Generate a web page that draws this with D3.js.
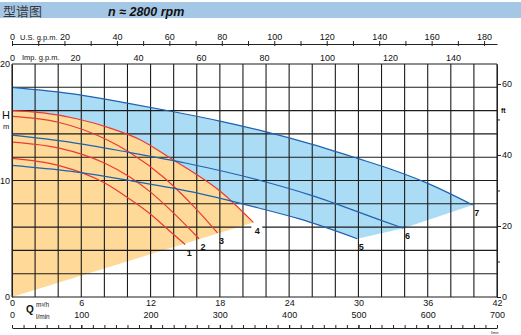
<!DOCTYPE html>
<html>
<head>
<meta charset="utf-8">
<script src="https://cdn.jsdelivr.net/npm/d3@7/dist/d3.min.js"></script>
<style>
  body { margin: 0; background: #fff; }
  svg { display: block; font-family: 'Liberation Sans', Arial, sans-serif; }
  .grid line { stroke: #1c1c1c; stroke-width: 1.1; }
  .axis path, .axis line { stroke: #222; stroke-width: 1; }
  .axis text { font-size: 9px; fill: #111; font-family: 'Liberation Sans', Arial, sans-serif; }
  .curve { fill: none; stroke-width: 1.2; }
  .curve--red { stroke: #ea3a35; }
  .curve--blue { stroke: #1f62b0; }
  .curve-label { font-size: 9px; font-weight: bold; fill: #111; }
</style>
</head>
<body>
<div id="chart"></div>
<script>
// tick labels
const Q_TICKS = [0, 6, 12, 18, 24, 30, 36, 42];
const LMIN_TICKS = [0, 100, 200, 300, 400, 500, 600, 700];
const US_TICKS = [0, 20, 40, 60, 80, 100, 120, 140, 160, 180];
const IMP_TICKS = [0, 20, 40, 60, 80, 100, 120, 140];
const H_TICKS = [0, 10, 20];
const FT_TICKS = [0, 20, 40, 60];
const FT_MINOR = [10, 30, 50];

// unit conversions (per m3/h, per m)
const US_PER_M3H = 4.4029;
const IMP_PER_M3H = 3.6662;
const LMIN_PER_M3H = 16.667;
const FT_PER_M = 3.2808;

// pump curves [Q m3/h, H m]
const curve1 = [[0, 11.9], [4, 11.3], [8, 9.8], [10.2, 8.4], [12, 7.1], [13.5, 5.8], [15, 4.5]];
const curve2 = [[0, 13.3], [4, 12.8], [8, 11.5], [10.2, 10.3], [12, 9.0], [14, 7.2], [16.2, 5.0]];
const curve3 = [[0, 15.5], [4, 15.0], [8, 13.6], [10.2, 12.4], [13.1, 10.3], [16, 7.5], [17.8, 5.5]];
const curve4 = [[0, 16.0], [2.7, 15.8], [5.6, 15.3], [8.5, 14.5], [11.1, 13.5], [13.9, 11.8], [16, 10.5], [18, 9.1], [20.9, 6.4]];
const curve5 = [[0, 11.3], [5, 10.8], [10.2, 10.0], [15.7, 9.0], [21.5, 7.6], [24.9, 6.7], [29.9, 5.0]];
const curve6 = [[0, 13.9], [5, 13.3], [10.2, 12.4], [15, 11.5], [21.5, 10.0], [26, 8.7], [31.9, 6.6], [33.9, 5.9]];
const curve7 = [[0, 18.0], [5.6, 17.4], [10.2, 16.6], [14, 15.9], [18, 15.1], [21.5, 14.3], [26, 13.1], [29.9, 11.9], [33, 10.9], [35.9, 9.8], [39.9, 7.9]];

// operating range limits
const blueLimit = [[39.9, 7.9], [33.9, 5.9], [29.9, 5.0]];
const orangeLimit = [[20.9, 6.4], [0, 0]];

const redCurves = [curve1, curve2, curve3, curve4];
const blueCurves = [curve5, curve6, curve7];
const CURVE_NAMES = ['1', '2', '3', '4', '5', '6', '7'];

// dimensions
const WIDTH = 521;
const HEIGHT = 335;
const PLOT_LEFT = 12;
const PLOT_RIGHT = 497;
const PLOT_TOP = 64;
const PLOT_BOTTOM = 297;

// colors
const BLUE_FILL = '#abdcf5';
const ORANGE_FILL = '#fed998';
const BAND_COLOR = '#a5c7e6';

// scales
const x = d3.scaleLinear().domain([0, 42]).range([PLOT_LEFT, PLOT_RIGHT]);
const y = d3.scaleLinear().domain([0, 20]).range([PLOT_BOTTOM, PLOT_TOP]);
const xUS = d3.scaleLinear().domain([0, 42 * US_PER_M3H]).range(x.range());
const xImp = d3.scaleLinear().domain([0, 42 * IMP_PER_M3H]).range(x.range());
const xLmin = d3.scaleLinear().domain([0, 42 * LMIN_PER_M3H]).range(x.range());
const yFt = d3.scaleLinear().domain([0, 20 * FT_PER_M]).range(y.range());

const line = d3.line()
  .x((d) => x(d[0]))
  .y((d) => y(d[1]))
  .curve(d3.curveMonotoneX);
const straight = d3.line().x((d) => x(d[0])).y((d) => y(d[1]));

const $svg = d3.select('#chart').append('svg')
  .attr('width', WIDTH)
  .attr('height', HEIGHT);

// header band
$svg.append('rect')
  .attr('x', 0).attr('y', 2)
  .attr('width', WIDTH).attr('height', 16)
  .attr('fill', BAND_COLOR);
$svg.append('text')
  .attr('x', 3).attr('y', 15.5)
  .style('font-family', "'Noto Sans CJK SC', sans-serif")
  .style('font-size', '13px')
  .attr('fill', '#3a3a3a')
  .text('型谱图');
$svg.append('text')
  .attr('x', 108).attr('y', 15.5)
  .style('font-size', '12.5px')
  .style('font-weight', 'bold')
  .style('font-style', 'italic')
  .attr('fill', '#111')
  .text('n ≈ 2800 rpm');

// fills: blue range, then orange range above it
const bluePath = line(curve7)
  + straight(blueLimit).replace('M', 'L')
  + line(curve5.slice().reverse()).replace('M', 'L') + 'Z';
$svg.append('path').attr('d', bluePath).attr('fill', BLUE_FILL);

const orangePath = line(curve4) + straight(orangeLimit).replace('M', 'L') + 'Z';
$svg.append('path').attr('d', orangePath).attr('fill', ORANGE_FILL);

// grid
const $grid = $svg.append('g').attr('class', 'grid');
$grid.selectAll('.gx')
  .data(d3.range(0, 43, 2))
  .join('line')
  .attr('x1', (d) => x(d)).attr('x2', (d) => x(d))
  .attr('y1', PLOT_TOP).attr('y2', PLOT_BOTTOM);
$grid.selectAll('.gy')
  .data(d3.range(0, 21, 2))
  .join('line')
  .attr('class', 'gy')
  .attr('x1', PLOT_LEFT).attr('x2', PLOT_RIGHT)
  .attr('y1', (d) => y(d)).attr('y2', (d) => y(d));

// curves
$svg.append('g').selectAll('path')
  .data(redCurves)
  .join('path')
  .attr('class', 'curve curve--red')
  .attr('d', line);
$svg.append('g').selectAll('path')
  .data(blueCurves)
  .join('path')
  .attr('class', 'curve curve--blue')
  .attr('d', line);

// curve numbers at the end of each curve
const ends = redCurves.concat(blueCurves).map((c, i) => ({ p: c[c.length - 1], name: CURVE_NAMES[i] }));
const $labels = $svg.append('g');
$labels.selectAll('rect')
  .data(ends.filter((d) => d.name === '4'))
  .join('rect')
  .attr('x', (d) => x(d.p[0]) - 2)
  .attr('y', (d) => y(d.p[1]) + 3)
  .attr('width', 11).attr('height', 10)
  .attr('fill', '#fff');
$labels.selectAll('text')
  .data(ends)
  .join('text')
  .attr('class', 'curve-label')
  .attr('x', (d) => x(d.p[0]) + 4)
  .attr('y', (d) => y(d.p[1]) + 8)
  .attr('dy', '0.35em')
  .attr('text-anchor', 'middle')
  .text((d) => d.name);

// left axis (H m)
$svg.append('g')
  .attr('class', 'axis')
  .attr('transform', `translate(${PLOT_LEFT},0)`)
  .call(d3.axisLeft(y).tickValues(H_TICKS).tickSize(0).tickPadding(2));
$svg.append('text').attr('x', 2).attr('y', 119).style('font-size', '11px').attr('fill', '#111').text('H');
$svg.append('text').attr('x', 3).attr('y', 129).style('font-size', '7.5px').attr('fill', '#111').text('m');

// right axis (ft)
const $ft = $svg.append('g')
  .attr('class', 'axis')
  .attr('transform', `translate(${PLOT_RIGHT},0)`);
$ft.call(d3.axisRight(yFt).tickValues(FT_TICKS).tickSize(4).tickPadding(1).tickSizeOuter(0));
$ft.append('g')
  .call(d3.axisRight(yFt).tickValues(FT_MINOR).tickSize(3).tickFormat(''))
  .call((g) => g.select('.domain').remove());
$svg.append('text').attr('x', 501).attr('y', 113).style('font-size', '7px').style('font-weight', 'bold').attr('fill', '#111').text('ft');

// top axis (U.S. g.p.m.)
const usMinor = d3.range(0, 181, 10);
$svg.append('g')
  .attr('class', 'axis')
  .attr('transform', 'translate(0,44)')
  .call(d3.axisTop(xUS).tickValues(usMinor).tickSize(3).tickSizeOuter(0).tickPadding(1)
    .tickFormat((d) => (US_TICKS.includes(d) ? d : '')))
  .call((g) => g.selectAll('.tick line').attr('y1', 2));
$svg.append('text').attr('x', 20).attr('y', 40).style('font-size', '7.5px').attr('fill', '#111').text('U.S. g.p.m.');

// Imp. g.p.m. labels
$svg.append('g')
  .attr('class', 'axis')
  .attr('transform', 'translate(0,61)')
  .call(d3.axisTop(xImp).tickValues(IMP_TICKS).tickSize(0).tickPadding(0))
  .call((g) => g.select('.domain').remove());
$svg.append('text').attr('x', 22).attr('y', 60).style('font-size', '7.5px').attr('fill', '#111').text('Imp. g.p.m.');

// bottom axis (m3/h)
$svg.append('g')
  .attr('class', 'axis')
  .attr('transform', `translate(0,${PLOT_BOTTOM})`)
  .call(d3.axisBottom(x).tickValues(Q_TICKS).tickSize(0).tickPadding(3))
  .call((g) => g.select('.domain').remove());

// bottom axis (l/min)
const $lmin = $svg.append('g')
  .attr('class', 'axis')
  .attr('transform', 'translate(0,328)');
$lmin.call(d3.axisTop(xLmin).tickValues(LMIN_TICKS).tickSize(3).tickPadding(7).tickSizeOuter(0));
$lmin.append('g')
  .call(d3.axisTop(x).tickValues(d3.range(0, 43)).tickSize(3).tickFormat(''))
  .call((g) => g.select('.domain').remove());

$svg.append('text').attr('x', 26).attr('y', 313).style('font-size', '10px').style('font-weight', 'bold').attr('fill', '#111').text('Q');
$svg.append('text').attr('x', 36).attr('y', 307).style('font-size', '6.5px').attr('fill', '#111').text('m³/h');
$svg.append('text').attr('x', 36).attr('y', 319).style('font-size', '6.5px').attr('fill', '#111').text('l/min');
$svg.append('text').attr('x', 491).attr('y', 334).style('font-size', '3.5px').attr('fill', '#111').text('l/min');
</script>
</body>
</html>
